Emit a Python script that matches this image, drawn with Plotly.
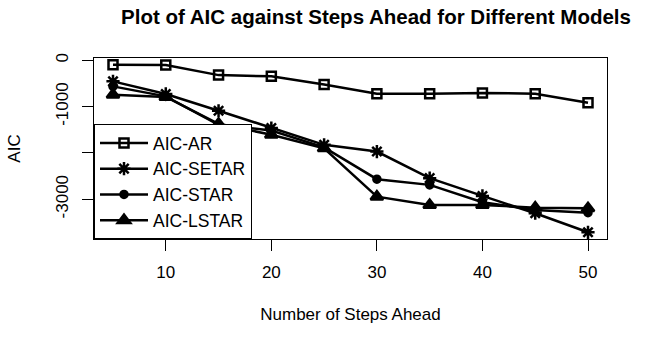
import plotly.graph_objects as go

steps = [5, 10, 15, 20, 25, 30, 35, 40, 45, 50]
aic_ar = [-95, -100, -320, -345, -520, -720, -720, -705, -720, -915]
aic_setar = [-455, -727, -1089, -1463, -1825, -1970, -2545, -2929, -3303, -3714]
aic_star = [-563, -779, -1392, -1515, -1880, -2567, -2690, -3065, -3232, -3290]
aic_lstar = [-742, -792, -1370, -1608, -1900, -2944, -3123, -3123, -3182, -3195]

series_names = ["AIC-AR", "AIC-SETAR", "AIC-STAR", "AIC-LSTAR"]
x_ticks = [10, 20, 30, 40, 50]
y_ticks = [0, -1000, -2000, -3000]
y_tick_text = ["0", "-1000", "", "-3000"]

series = [aic_ar, aic_setar, aic_star, aic_lstar]
symbols = ["square-open", "asterisk-open", "circle", "triangle-up"]
sizes = [9, 11, 7, 11]

fig = go.Figure()
for name, vals, sym, sz in zip(series_names, series, symbols, sizes):
    fig.add_trace(go.Scatter(
        x=steps, y=vals, name=name, mode="lines+markers",
        line=dict(color="black", width=2.5),
        marker=dict(symbol=sym, size=sz, color="black",
                    line=dict(color="black", width=2.5)),
    ))

xmin, xmax = min(steps), max(steps)
allv = [v for s in series for v in s]
ymin, ymax = min(allv), max(allv)
xpad = 0.04 * (xmax - xmin)
ypad = 0.04 * (ymax - ymin)

W, H = 649, 337
font = "Liberation Sans, Arial, sans-serif"
fig.update_layout(
    template="none",
    width=W, height=H,
    margin=dict(l=94, r=42, t=58, b=98, autoexpand=False),
    paper_bgcolor="white", plot_bgcolor="white",
    font=dict(family=font, color="black", size=17),
    title=dict(text="<b>Plot of AIC against Steps Ahead for Different Models</b>",
               x=376 / W, xanchor="center", xref="container",
               y=1 - 16.5 / H, yanchor="middle", yref="container",
               font=dict(size=20.5, family=font, color="black")),
    showlegend=True,
    legend=dict(x=0, y=0, xanchor="left", yanchor="bottom",
                bgcolor="white", bordercolor="black", borderwidth=1,
                font=dict(size=17.5, family=font, color="black"),
                itemwidth=48, tracegroupgap=0),
    xaxis=dict(range=[xmin - xpad, xmax + xpad], tickvals=x_ticks,
               automargin=False, ticklabelstandoff=7,
               ticks="outside", ticklen=11, tickcolor="black", tickwidth=1,
               showgrid=False, zeroline=False, showline=True, linecolor="black",
               linewidth=1, mirror=True,
               title=dict(text="Number of Steps Ahead", standoff=26,
                          font=dict(size=17)),
               tickfont=dict(size=17)),
    yaxis=dict(range=[ymin - ypad, ymax + ypad], tickvals=y_ticks,
               automargin=False, ticklabelstandoff=7,
               ticktext=y_tick_text, tickangle=-90,
               ticks="outside", ticklen=11, tickcolor="black", tickwidth=1,
               showgrid=False, zeroline=False, showline=True, linecolor="black",
               linewidth=1, mirror=True,
               title=dict(text="AIC", standoff=28, font=dict(size=17)),
               tickfont=dict(size=17)),
)

# remove the browser's default 8px body margin so the figure fills the window
fig.write_html("out.html", config={"displayModeBar": False},
               post_script="document.body.style.margin='0';")
